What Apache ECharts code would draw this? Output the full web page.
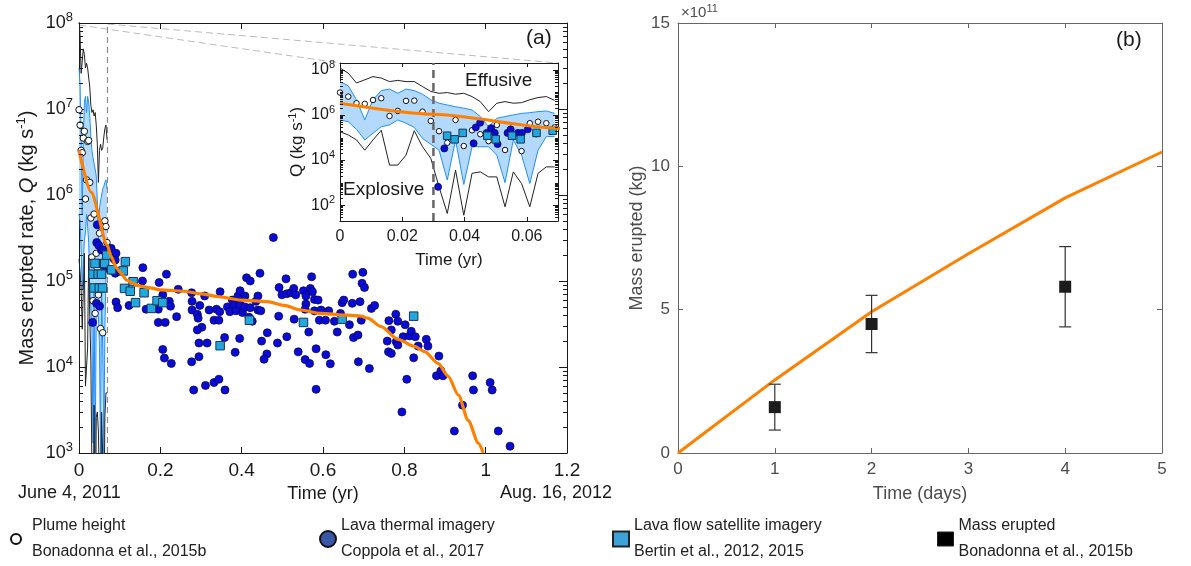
<!DOCTYPE html>
<html>
<head>
<meta charset="utf-8">
<script src="https://cdn.jsdelivr.net/npm/echarts@6/dist/echarts.min.js"></script>
<style>
  html, body { margin: 0; background: #fff; }
  #main { width: 1191px; height: 566px; }
</style>
</head>
<body>
<div id="main"></div>
<script>
// ---------------- data ----------------
// (a) daily envelope of the model runs, first ~25 days (time in yr, Q in kg/s)
const envT = [0, 0.00265, 0.0053, 0.00795, 0.0106, 0.01325, 0.0159, 0.01855, 0.0212, 0.02385, 0.0265,
  0.02915, 0.0318, 0.03445, 0.0371, 0.03975, 0.0424, 0.04505, 0.0477, 0.05035, 0.053, 0.05565, 0.0583,
  0.06095, 0.0636, 0.06625, 0.0689];
const blackUpQ = [1.2e8, 7.1e7, 2.6e7, 3.6e7, 5.0e7, 4.3e7, 3.0e7, 3.4e7, 3.0e7, 3.0e7, 1.8e7, 1.1e7, 9.1e6,
  9.8e6, 8.3e6, 9.1e6, 6.5e6, 3.9e6, 1.4e6, 3.3e6, 3.9e6, 3.3e6, 3.5e6, 4.7e6, 5.9e6, 6.5e6, 4.4e6];
const bandUpQ = [3.0e7, 1.95e7, 4.7e6, 6.0e5, 4.7e6, 1.2e7, 1.4e7, 9.1e6, 1.4e7, 1.2e7, 8.3e6, 4.7e6, 3.3e6,
  2.75e6, 2.3e6, 2.0e6, 1.66e6, 8.5e5, 3.0e5, 7.1e5, 8.5e5, 1.0e6, 1.17e6, 1.26e6, 1.4e6, 1.5e6, 1.17e6];
const bandLowQ = [6.0e5, 5.0e5, 2.3e5, 7.8e4, 1.55e5, 3.0e5, 3.6e5, 6.0e5, 4.3e5, 2.8e5, 9.1e4, 5.0e4, 2.75e4,
  1.3e3, 7.8e4, 830, 3.9e4, 3.9e4, 3.9e4, 1.66e4, 1.0e3, 7.8e4, 1.66e4, 910, 2.75e4, 1.1e5, 1.1e5];
const blackLowQ = [1.8e5, 1.3e5, 7.8e4, 2.75e4, 7.8e4, 2.1e5, 6.0e3, 6.0e3, 1.66e4, 2.0e5, 3.9e4, 1.2e4, 650,
  43, 3.6e3, 36, 2.6e3, 3.0e3, 1.8e3, 1.8e3, 85, 3.0e3, 910, 85, 2.6e3, 5.0e3, 5.0e3];

// plume height (Bonadonna et al., 2015b)
const plumeT = [0, 0.00265, 0.0053, 0.00795, 0.0106, 0.01325, 0.0159, 0.01855, 0.0212, 0.02385, 0.0265,
  0.02915, 0.0318, 0.03445, 0.0371, 0.03975, 0.0424, 0.04505, 0.0477, 0.05035, 0.053, 0.0583, 0.06095,
  0.0636, 0.06625, 0.0689];
const plumeQ = [9.8e6, 6.5e6, 3.3e6, 3.1e6, 4.6e6, 5.5e6, 9.0e5, 1.5e6, 4.2e6, 4.3e6, 1.4e6, 5.4e5, 1.9e5,
  5.9e4, 6.0e5, 4.2e4, 2.1e5, 1.4e5, 6.9e4, 3.6e5, 2.8e4, 2.5e4, 4.3e5, 5.0e5, 4.3e5, 2.8e5];

// lava thermal imagery (Coppola et al., 2017)
const thermalT = [0.0315, 0.0335, 0.0429, 0.0436, 0.045, 0.0471, 0.0485, 0.0497, 0.0506, 0.0538, 0.0548,
  0.0571, 0.0584, 0.0603, 0.063,
  0.077, 0.079, 0.085, 0.089, 0.091, 0.097, 0.089, 0.091, 0.095,
  0.478, 0.157, 0.215, 0.156, 0.197, 0.244, 0.277, 0.309, 0.347, 0.412, 0.421, 0.445, 0.509, 0.492, 0.499,
  0.511, 0.521, 0.528, 0.533, 0.123, 0.165, 0.195, 0.206, 0.222, 0.225, 0.240, 0.278, 0.278, 0.291, 0.293,
  0.297, 0.302, 0.320, 0.338, 0.346, 0.365, 0.371, 0.377, 0.381, 0.386, 0.391, 0.396, 0.396, 0.402, 0.408,
  0.408, 0.418, 0.421, 0.426, 0.435, 0.440, 0.440, 0.447, 0.449, 0.463, 0.462, 0.455, 0.488, 0.491, 0.511,
  0.529, 0.539, 0.195, 0.212, 0.291, 0.295, 0.315, 0.295, 0.332, 0.344, 0.358, 0.384, 0.395, 0.206, 0.210,
  0.227, 0.277, 0.282, 0.311, 0.332, 0.344, 0.359,
  0.572, 0.552, 0.569, 0.574, 0.558, 0.579, 0.588, 0.558, 0.556, 0.579, 0.565, 0.556, 0.567, 0.583, 0.583,
  0.607, 0.618, 0.595, 0.614, 0.591, 0.606, 0.628, 0.635, 0.643, 0.647, 0.651, 0.665, 0.672, 0.673, 0.675,
  0.686, 0.687, 0.691, 0.694, 0.696, 0.698, 0.702, 0.714, 0.719, 0.727, 0.762, 0.768, 0.779, 0.784, 0.758,
  0.761, 0.768, 0.780, 0.784, 0.797, 0.802, 0.806, 0.794, 0.813, 0.817, 0.823, 0.827, 0.834, 0.854, 0.858,
  0.885, 0.879, 0.890, 0.895, 0.923, 0.943, 0.968, 0.970, 1.011, 1.016, 1.031, 1.060];
const thermalQ = [650, 3.3e4, 5.5e4, 2.8e5, 4.5e5, 1.6e5, 2.6e5, 1.6e5, 5.1e4, 1.6e5, 2.3e5,
  1.6e5, 1.6e5, 2.3e5, 1.5e5,
  1.34e5, 2.4e5, 1.84e5, 1.23e5, 2.1e5, 1.3e5, 1.75e5, 5.7e4, 4.9e4,
  3.2e5, 1.43e5, 1.2e5, 1.0e5, 9.6e4, 8.0e4, 7.3e4, 6.7e4, 7.5e4, 1.09e5, 1.0e5, 1.23e5, 1.06e5, 8.4e4, 6.9e4,
  7.1e4, 7.3e4, 8.2e4, 6.9e4, 5.2e4, 4.7e4, 4.7e4, 6.9e4, 5.8e4, 5.1e4, 3.85e4, 5.8e4, 4.6e4, 4.1e4, 3.7e4,
  5.2e4, 2.9e4, 4.6e4, 4.7e4, 4.4e4, 5.0e4, 4.4e4, 6.0e4, 5.3e4, 4.5e4, 6.7e4, 7.7e4, 5.3e4, 4.3e4, 6.7e4,
  5.0e4, 3.8e4, 4.9e4, 3.4e4, 5.8e4, 6.7e4, 4.6e4, 4.5e4, 2.0e4, 2.5e4, 1.42e4, 1.23e4, 1.9e4, 3.9e4, 2.25e4,
  3.6e4, 1.5e4, 3.3e4, 3.3e4, 2.7e4, 1.9e4, 1.9e4, 1.32e4, 3.5e4, 3.5e4, 2.2e4, 1.48e4, 2.15e4, 1.6e4, 1.27e4,
  1.1e4, 1.15e4, 5.4e3, 6.1e3, 6.6e3, 7.2e3, 5.4e3,
  1.12e5, 7.7e4, 8.2e4, 7.5e4, 6.7e4, 6.1e4, 6.0e4, 5.4e4, 4.7e4, 4.5e4, 2.55e4, 1.22e4, 1.1e4, 1.63e4, 5.5e3,
  1.39e4, 1.09e4, 4.6e4, 4.5e4, 3.5e4, 3.5e4, 3.4e4, 2.55e4, 4.2e4, 5.6e4, 6.0e4, 3.1e4, 5.5e4, 1.2e5, 2.2e4,
  2.35e4, 1.15e4, 5.75e4, 3.5e4, 9.4e4, 1.26e5, 8.4e4, 9.6e3, 4.8e4, 5.2e4, 3.46e4, 2.7e4, 4.1e4, 3.4e4, 2.0e4,
  1.5e4, 1.44e4, 1.97e4, 1.8e4, 2.25e4, 3.1e4, 7.2e3, 3.0e3, 2.3e4, 2.6e4, 1.28e4, 2.25e4, 1.75e4, 2.1e4, 1.75e4,
  1.34e4, 7.9e3, 9.0e3, 7.9e3, 1.8e3, 3.6e3, 7.9e3, 5.4e3, 6.6e3, 5.4e3, 1.8e3, 1.2e3];

// lava flow satellite imagery (Bertin et al., 2012, 2015)
const flowT = [0.0344, 0.0368, 0.0394, 0.0473, 0.05, 0.0552, 0.058, 0.0631, 0.0683, 0.08,
  0.114, 0.109, 0.133, 0.112, 0.126, 0.160, 0.139, 0.178, 0.192, 0.206, 0.347, 0.419, 0.552, 0.647, 0.823];
const flowQ = [1.2e5, 8.3e4, 1.6e5, 1.2e5, 8.3e4, 1.2e5, 8.3e4, 1.6e5, 2.0e5, 1.35e5,
  1.68e5, 1.31e5, 9.8e4, 8.2e4, 7.6e4, 7.3e4, 5.6e4, 4.8e4, 5.9e4, 5.6e4, 1.77e4, 3.5e4, 3.3e4, 3.6e4, 3.9e4];

// model eruption rate
const modelT = [0, 0.03, 0.07, 0.077, 0.093, 0.101, 0.118, 0.134, 0.151, 0.175, 0.2, 0.257, 0.3, 0.34, 0.398,
  0.422, 0.463, 0.504, 0.546, 0.595, 0.661, 0.694, 0.71, 0.743, 0.784, 0.825, 0.85, 0.883, 0.908, 0.933,
  0.957, 0.982, 0.994];
const modelQ = [3.3e6, 1.07e6, 2.6e5, 2.0e5, 1.41e5, 1.26e5, 1.02e5, 9.3e4, 8.7e4, 8.3e4, 7.9e4, 7.6e4, 7.1e4,
  6.6e4, 6.0e4, 5.9e4, 5.75e4, 5.2e4, 4.6e4, 4.2e4, 4.0e4, 3.9e4, 3.7e4, 2.95e4, 2.1e4, 1.74e4, 1.51e4,
  1.1e4, 7.8e3, 4.7e3, 2.4e3, 1.3e3, 1.0e3];

const insetEnd = 0.07;      // zoomed window shown in the inset
const explosiveEnd = 0.03;  // explosive / effusive boundary

// (b) cumulative mass (days, kg)
const massDays = [0, 1, 2, 3, 4, 5];
const massModel = [0, 2.55e11, 4.93e11, 6.95e11, 8.9e11, 10.5e11];
const obsDays = [1, 2, 4];
const obsMass = [1.6e11, 4.5e11, 5.8e11];
const obsLow = [0.8e11, 3.5e11, 4.4e11];
const obsHigh = [2.4e11, 5.5e11, 7.2e11];

// ---------------- helpers ----------------
const FONT = '"Liberation Sans", Arial, Helvetica, sans-serif';
const INK = '#1a1a1a';
const GREY = '#4d4d4d';
const ORANGE = '#ff8000';

const zip = (a, b) => a.map((v, i) => [v, b[i]]);

function powLabel(step) {
  return function (v) {
    const e = Math.log10(v);
    const r = Math.round(e);
    if (Math.abs(e - r) > 1e-6 || r % step !== 0) return '';
    return '{b|10}{s|' + r + '}';
  };
}
const powRich = size => ({
  b: { fontSize: size, color: INK, fontFamily: FONT },
  s: { fontSize: Math.round(size * 0.7), color: INK, fontFamily: FONT, padding: [0, 0, Math.round(size * 0.6), 0] }
});

// log minor ticks (k x 10^n) drawn on both sides of a log axis
function minorTicks(lo, hi, ks) {
  const out = [];
  for (let d = Math.floor(Math.log10(lo)); d <= Math.ceil(Math.log10(hi)); d++) {
    ks.forEach(k => {
      const v = k * Math.pow(10, d);
      if (v > lo && v < hi) out.push(v);
    });
  }
  return out;
}
function minorTickRender(xmin, xmax, len) {
  return function (params, api) {
    const v = api.value(1);
    const a = api.coord([xmin, v]);
    const b = api.coord([xmax, v]);
    const y = Math.round(a[1]) + 0.5;
    return {
      type: 'group',
      children: [
        { type: 'line', shape: { x1: a[0], y1: y, x2: a[0] + len, y2: y }, style: { stroke: INK, lineWidth: 1 } },
        { type: 'line', shape: { x1: b[0], y1: y, x2: b[0] - len, y2: y }, style: { stroke: INK, lineWidth: 1 } }
      ]
    };
  };
}

function bandRender(params, api) {
  const pts = envT.map((t, i) => api.coord([t, bandUpQ[i]]));
  for (let i = envT.length - 1; i >= 0; i--) pts.push(api.coord([envT[i], bandLowQ[i]]));
  return { type: 'polygon', shape: { points: pts }, style: { fill: '#b3d9ff', stroke: null } };
}

function errBarRender(params, api) {
  const x = api.value(0);
  const lo = api.coord([x, api.value(1)]);
  const hi = api.coord([x, api.value(2)]);
  const c = 6;
  const st = { stroke: '#333', lineWidth: 1.2 };
  return {
    type: 'group',
    children: [
      { type: 'line', shape: { x1: lo[0], y1: lo[1], x2: hi[0], y2: hi[1] }, style: st },
      { type: 'line', shape: { x1: lo[0] - c, y1: lo[1], x2: lo[0] + c, y2: lo[1] }, style: st },
      { type: 'line', shape: { x1: hi[0] - c, y1: hi[1], x2: hi[0] + c, y2: hi[1] }, style: st }
    ]
  };
}

// the set of layers drawn in panel (a) and again in its inset
function layersFor(xi, yi, zl, big) {
  const base = { xAxisIndex: xi, yAxisIndex: yi, zlevel: zl, silent: true, animation: false };
  return [
    Object.assign({ type: 'custom', clip: true, z: 1, renderItem: bandRender, data: [[0, 1e5]] }, base),
    Object.assign({ type: 'line', z: 2, symbol: 'none', data: zip(envT, bandUpQ), lineStyle: { color: '#1f8fff', width: 1 } }, base),
    Object.assign({ type: 'line', z: 2, symbol: 'none', data: zip(envT, bandLowQ), lineStyle: { color: '#1f8fff', width: 1 } }, base),
    Object.assign({ type: 'line', z: 2, symbol: 'none', data: zip(envT, blackUpQ), lineStyle: { color: '#222', width: 1 } }, base),
    Object.assign({ type: 'line', z: 2, symbol: 'none', data: zip(envT, blackLowQ), lineStyle: { color: '#222', width: 1 } }, base),
    Object.assign({ type: 'scatter', name: 'Plume height', z: 3, symbol: 'circle', symbolSize: big ? 6.5 : 5.5,
      data: zip(plumeT, plumeQ), itemStyle: { color: '#fff', borderColor: '#111', borderWidth: 1, opacity: 1 } }, base),
    Object.assign({ type: 'scatter', name: 'Lava thermal imagery', z: 4, symbol: 'circle', symbolSize: big ? 8 : 7,
      data: zip(thermalT, thermalQ), itemStyle: { color: '#0b0bd6', borderColor: '#07075a', borderWidth: 0.8, opacity: 1 } }, base),
    Object.assign({ type: 'scatter', name: 'Lava flow satellite imagery', z: 5, symbol: 'rect', symbolSize: big ? 8.5 : 7.5,
      data: zip(flowT, flowQ), itemStyle: { color: '#22a8e0', borderColor: '#1b3550', borderWidth: 1, opacity: 1 } }, base),
    Object.assign({ type: 'line', z: 6, symbol: 'none', smooth: 0.25, smoothMonotone: 'x', data: zip(modelT, modelQ),
      lineStyle: { color: ORANGE, width: big ? 3.2 : 3 } }, base)
  ];
}

const axisLineK = { onZero: false, lineStyle: { color: INK, width: 1 } };
const axisLineG = { onZero: false, lineStyle: { color: '#666', width: 1 } };

// ---------------- chart ----------------
const chart = echarts.init(document.getElementById('main'));

const legendText = {
  'Plume height': 'Bonadonna et al., 2015b',
  'Lava thermal imagery': 'Coppola et al., 2017',
  'Lava flow satellite imagery': 'Bertin et al., 2012, 2015',
  'Mass erupted': 'Bonadonna et al., 2015b'
};
function legendAt(left, name, w, h, style, gap) {
  return {
    left: left, top: 513, padding: 0, itemWidth: w, itemHeight: h, selectedMode: false,
    data: [{ name: name, icon: style.icon, itemStyle: style.itemStyle }],
    formatter: n => n + '\n' + legendText[n],
    textStyle: { fontSize: 16, lineHeight: 26, color: '#222', fontFamily: FONT, padding: [0, 0, 0, gap || 0] }
  };
}

const titleTxt = (text, left, top, size, extra) => Object.assign({
  text: text, left: left, top: top, padding: 0,
  textStyle: { fontSize: size, fontWeight: 'normal', color: INK, fontFamily: FONT }
}, extra || {});

const option = {
  animation: false,
  textStyle: { fontFamily: FONT },
  title: [
    titleTxt('(a)', 526, 28, 21),
    titleTxt('(b)', 1116, 30, 21),
    titleTxt('Effusive', 465, 71, 19, { zlevel: 1 }),
    titleTxt('Explosive', 343, 180, 19, { zlevel: 1 }),
    titleTxt('June 4, 2011', 18, 484, 18),
    titleTxt('Aug. 16, 2012', 500, 484, 18),
    { text: '{n|×10}{s|11}', left: 681, top: 3, padding: 0, textStyle: { fontWeight: 'normal', rich: {
      n: { fontSize: 15, color: GREY, fontFamily: FONT, fontWeight: 'normal' },
      s: { fontSize: 11, color: GREY, fontFamily: FONT, fontWeight: 'normal', padding: [0, 0, 9, 0] } } } }
  ],
  legend: [
    legendAt(10, 'Plume height', 10, 10, { icon: 'circle', itemStyle: { color: '#fff', borderColor: '#111', borderWidth: 2 } }, 6),
    legendAt(319, 'Lava thermal imagery', 16, 16, { icon: 'circle', itemStyle: { color: '#3a56a8', borderColor: '#111', borderWidth: 2 } }),
    legendAt(612, 'Lava flow satellite imagery', 16, 15, { icon: 'rect', itemStyle: { color: '#3ea2da', borderColor: '#222', borderWidth: 2 } }),
    legendAt(937, 'Mass erupted', 16, 14, { icon: 'rect', itemStyle: { color: '#000', borderColor: '#222', borderWidth: 1 } })
  ],
  grid: [
    { left: 79, top: 23, width: 488, height: 430 },
    { left: 340, top: 63, width: 218, height: 158, show: true, backgroundColor: '#fff', borderWidth: 0, zlevel: 1 },
    { left: 678, top: 23, width: 484, height: 430 }
  ],
  xAxis: [
    { type: 'value', gridIndex: 0, min: 0, max: 1.2, interval: 0.2, axisLine: axisLineK,
      axisTick: { inside: true, length: 6, lineStyle: { color: INK } }, splitLine: { show: false },
      axisLabel: { color: INK, fontSize: 19, margin: 8 },
      name: 'Time (yr)', nameLocation: 'middle', nameGap: 32, nameTextStyle: { color: INK, fontSize: 18 } },
    { type: 'value', gridIndex: 0, position: 'top', min: 0, max: 1.2, interval: 0.2, axisLine: axisLineK,
      axisTick: { inside: true, length: 6, lineStyle: { color: INK } }, splitLine: { show: false }, axisLabel: { show: false } },
    { type: 'value', gridIndex: 1, zlevel: 1, min: 0, max: insetEnd, interval: 0.02, axisLine: axisLineK,
      axisTick: { inside: true, length: 4, lineStyle: { color: INK } }, splitLine: { show: false },
      axisLabel: { color: INK, fontSize: 16, margin: 8, showMaxLabel: false },
      name: 'Time (yr)', nameLocation: 'middle', nameGap: 31, nameTextStyle: { color: INK, fontSize: 17 } },
    { type: 'value', gridIndex: 1, zlevel: 1, position: 'top', min: 0, max: insetEnd, interval: 0.02, axisLine: axisLineK,
      axisTick: { inside: true, length: 4, lineStyle: { color: INK } }, splitLine: { show: false }, axisLabel: { show: false } },
    { type: 'value', gridIndex: 2, min: 0, max: 5, interval: 1, axisLine: axisLineG,
      axisTick: { inside: true, length: 5, lineStyle: { color: '#666' } }, splitLine: { show: false },
      axisLabel: { color: GREY, fontSize: 17, margin: 8 },
      name: 'Time (days)', nameLocation: 'middle', nameGap: 32, nameTextStyle: { color: GREY, fontSize: 18 } },
    { type: 'value', gridIndex: 2, position: 'top', min: 0, max: 5, interval: 1, axisLine: axisLineG,
      axisTick: { inside: true, length: 5, lineStyle: { color: '#666' } }, splitLine: { show: false }, axisLabel: { show: false } }
  ],
  yAxis: [
    { type: 'log', logBase: 10, gridIndex: 0, min: 1e3, max: 1e8, splitNumber: 5, axisLine: axisLineK,
      axisTick: { inside: true, length: 8, lineStyle: { color: INK } }, splitLine: { show: false },
      axisLabel: { formatter: powLabel(1), rich: powRich(18), margin: 6 },
      name: '{n|Mass erupted rate, }{i|Q}{n| (kg s}{s|-1}{n|)}', nameLocation: 'middle', nameRotate: 90, nameGap: 40,
      nameTextStyle: { rich: {
        n: { fontSize: 20, color: INK, fontFamily: FONT },
        i: { fontSize: 20, color: INK, fontFamily: FONT, fontStyle: 'italic' },
        s: { fontSize: 13, color: INK, fontFamily: FONT, padding: [0, 0, 11, 0] } } } },
    { type: 'log', logBase: 10, gridIndex: 0, position: 'right', min: 1e3, max: 1e8, splitNumber: 5, axisLine: axisLineK,
      axisTick: { inside: true, length: 8, lineStyle: { color: INK } }, splitLine: { show: false }, axisLabel: { show: false } },
    { type: 'log', logBase: 10, gridIndex: 1, zlevel: 1, min: 20, max: 2e8, splitNumber: 4, axisLine: axisLineK,
      axisTick: { show: false }, splitLine: { show: false },
      axisLabel: { formatter: powLabel(2), rich: powRich(16), margin: 5, showMinLabel: false, showMaxLabel: false },
      name: '{n|Q (kg s}{s|-1}{n|)}', nameLocation: 'middle', nameRotate: 90, nameGap: 33,
      nameTextStyle: { rich: {
        n: { fontSize: 17, color: INK, fontFamily: FONT },
        s: { fontSize: 11, color: INK, fontFamily: FONT, padding: [0, 0, 9, 0] } } } },
    { type: 'log', logBase: 10, gridIndex: 1, zlevel: 1, position: 'right', min: 20, max: 2e8, splitNumber: 4, axisLine: axisLineK,
      axisTick: { show: false }, splitLine: { show: false }, axisLabel: { show: false } },
    { type: 'value', gridIndex: 2, min: 0, max: 15e11, interval: 5e11, axisLine: axisLineG,
      axisTick: { inside: true, length: 5, lineStyle: { color: '#666' } }, splitLine: { show: false },
      axisLabel: { color: GREY, fontSize: 17, margin: 8, formatter: v => String(Math.round(v / 1e11)) },
      name: 'Mass erupted (kg)', nameLocation: 'middle', nameRotate: 90, nameGap: 32, nameTextStyle: { color: GREY, fontSize: 18 } },
    { type: 'value', gridIndex: 2, position: 'right', min: 0, max: 15e11, interval: 5e11, axisLine: axisLineG,
      axisTick: { inside: true, length: 5, lineStyle: { color: '#666' } }, splitLine: { show: false }, axisLabel: { show: false } }
  ],
  series: [].concat(
    layersFor(0, 0, 0, true),
    [
      { type: 'line', xAxisIndex: 0, yAxisIndex: 0, z: 2, symbol: 'none', silent: true,
        data: [[insetEnd, 1e3], [insetEnd, 1e8]], lineStyle: { color: '#8c8c8c', width: 1.2, type: [6, 4] } },
      { type: 'custom', xAxisIndex: 0, yAxisIndex: 0, z: 7, silent: true, renderItem: minorTickRender(0, 1.2, 4),
        data: minorTicks(1e3, 1e8, [2, 3, 4, 5, 6, 7, 8, 9]).map(v => [0, v]), encode: { x: 0, y: 1 } }
    ],
    layersFor(2, 2, 1, false),
    [
      { type: 'line', xAxisIndex: 2, yAxisIndex: 2, zlevel: 1, z: 5, symbol: 'none', silent: true,
        data: [[explosiveEnd, 20], [explosiveEnd, 2e8]], lineStyle: { color: '#666', width: 2.5, type: [8, 5] } },
      // inset: majors every second decade, shorter ticks for the rest
      { type: 'custom', xAxisIndex: 2, yAxisIndex: 2, zlevel: 1, z: 7, silent: true, renderItem: minorTickRender(0, insetEnd, 5),
        data: minorTicks(20, 2e8, [1]).filter(v => Math.round(Math.log10(v)) % 2 === 0).map(v => [0, v]), encode: { x: 0, y: 1 } },
      { type: 'custom', xAxisIndex: 2, yAxisIndex: 2, zlevel: 1, z: 7, silent: true, renderItem: minorTickRender(0, insetEnd, 3),
        data: minorTicks(20, 2e8, [1, 2, 3, 4, 5, 6, 7, 8, 9]).filter(v => [1e2, 1e4, 1e6, 1e8].indexOf(v) < 0).map(v => [0, v]), encode: { x: 0, y: 1 } }
    ],
    [
      { type: 'line', name: 'Mass model', xAxisIndex: 4, yAxisIndex: 4, z: 3, symbol: 'none', silent: true,
        data: zip(massDays, massModel), lineStyle: { color: ORANGE, width: 3 } },
      { type: 'custom', name: 'Mass range', xAxisIndex: 4, yAxisIndex: 4, z: 4, silent: true, renderItem: errBarRender,
        data: obsDays.map((d, i) => [d, obsLow[i], obsHigh[i]]), encode: { x: 0, y: [1, 2] } },
      { type: 'scatter', name: 'Mass erupted', xAxisIndex: 4, yAxisIndex: 4, z: 5, symbol: 'rect', symbolSize: 12, silent: true,
        data: zip(obsDays, obsMass), itemStyle: { color: '#1c1c1c', opacity: 1 } }
    ]
  )
};
chart.setOption(option);

// zoom connector lines from the main panel to the inset
const a0 = chart.convertToPixel({ xAxisIndex: 0, yAxisIndex: 0 }, [0, 1e8]);
const a1 = chart.convertToPixel({ xAxisIndex: 0, yAxisIndex: 0 }, [insetEnd, 1e8]);
const b0 = chart.convertToPixel({ xAxisIndex: 2, yAxisIndex: 2 }, [0, 2e8]);
const b1 = chart.convertToPixel({ xAxisIndex: 2, yAxisIndex: 2 }, [insetEnd, 2e8]);
const dashStyle = { stroke: '#bbb', lineWidth: 1, lineDash: [7, 4] };
chart.setOption({
  graphic: [
    { type: 'line', silent: true, shape: { x1: a0[0], y1: a0[1] + 2, x2: b0[0], y2: b0[1] }, style: dashStyle },
    { type: 'line', silent: true, shape: { x1: a1[0], y1: a1[1] + 1, x2: b1[0], y2: b1[1] }, style: dashStyle }
  ]
});
</script>
</body>
</html>
